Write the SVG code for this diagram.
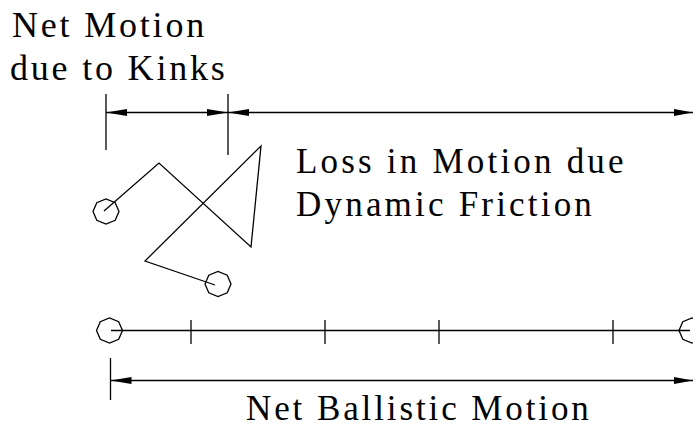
<svg xmlns="http://www.w3.org/2000/svg" width="693" height="428" viewBox="0 0 693 428">
<style>
.ln{stroke:#000;stroke-width:1.3;fill:none}
.ah{fill:#000;stroke:none}
text{font-family:'Liberation Serif','Times New Roman',serif;fill:#000}
</style>
<rect width="693" height="428" fill="#fff"/>
<g id="label-kinks">
<text x="12" y="37" font-size="36" letter-spacing="2.8">Net Motion</text>
<text x="10" y="80" font-size="36" letter-spacing="2.8">due to Kinks</text>
</g>
<g id="label-loss">
<text x="296" y="173" font-size="35" letter-spacing="3.2">Loss in Motion due</text>
<text x="296" y="216" font-size="35" letter-spacing="3.2">Dynamic Friction</text>
</g>
<g id="label-ballistic">
<text x="246" y="420" font-size="35" letter-spacing="2.9">Net Ballistic Motion</text>
</g>
<g id="particle-start">
<polygon class="ln" points="119,211.5 115.2,220.3 106,224 96.8,220.3 93,211.5 96.8,202.7 106,199 115.2,202.7"/>
</g>
<g id="particle-end">
<polygon class="ln" points="231,284 227.2,292.8 218,296.5 208.8,292.8 205,284 208.8,275.2 218,271.5 227.2,275.2"/>
</g>
<g id="baseline-start">
<polygon class="ln" points="122.5,330.5 118.7,339.3 109.5,343 100.3,339.3 96.5,330.5 100.3,321.7 109.5,318 118.7,321.7"/>
</g>
<g id="baseline-end">
<polygon class="ln" points="705,330.5 701.2,339.3 692,343 682.8,339.3 679,330.5 682.8,321.7 692,318 701.2,321.7"/>
</g>
<g id="connectors">
<polyline class="ln" points="104,211 159,163 251,247 261,146 145,261 215,285"/>
<line class="ln" x1="111" y1="330.5" x2="690" y2="330.5"/>
<line class="ln" x1="191" y1="320" x2="191" y2="344"/>
<line class="ln" x1="325" y1="320" x2="325" y2="344"/>
<line class="ln" x1="439" y1="320" x2="439" y2="344"/>
<line class="ln" x1="613" y1="320" x2="613" y2="344"/>
<line class="ln" x1="106" y1="94" x2="106" y2="150"/>
<line class="ln" x1="228" y1="94" x2="228" y2="155"/>
<line class="ln" x1="106" y1="112.5" x2="693" y2="112.5"/>
<polygon class="ah" points="106,112.5 127,109 127,116"/>
<polygon class="ah" points="228,112.5 207,109 207,116"/>
<polygon class="ah" points="228,112.5 249,109 249,116"/>
<polygon class="ah" points="693,112.5 674,109 674,116"/>
<line class="ln" x1="110.5" y1="358" x2="110.5" y2="400"/>
<line class="ln" x1="110.5" y1="380.5" x2="693" y2="380.5"/>
<polygon class="ah" points="110.5,380.5 131.5,377 131.5,384"/>
<polygon class="ah" points="693,380.5 674,377 674,384"/>
</g>
</svg>
